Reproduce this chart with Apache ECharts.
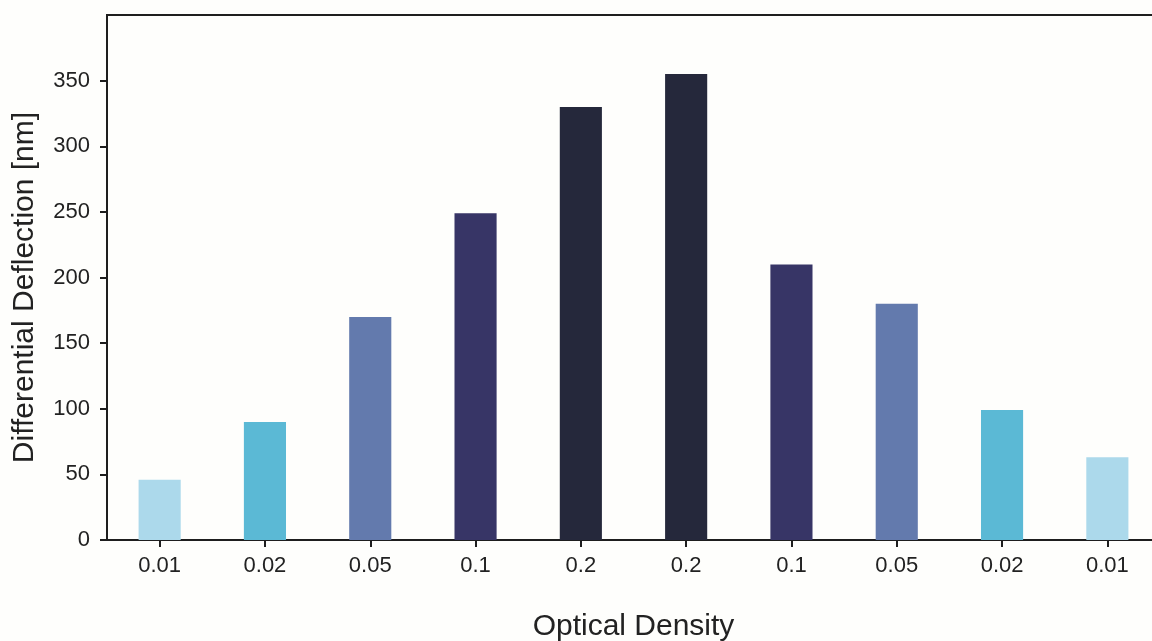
<!DOCTYPE html>
<html>
<head>
<meta charset="utf-8">
<script src="https://cdn.jsdelivr.net/npm/echarts@6/dist/echarts.min.js"></script>
<style>
  html, body { margin: 0; padding: 0; background: #fefefc; }
  #chart { width: 1152px; height: 641px; }
</style>
</head>
<body>
<div id="chart"></div>
<script>
// Optical density of each filter, ascending then descending
const categories = ['0.01', '0.02', '0.05', '0.1', '0.2', '0.2', '0.1', '0.05', '0.02', '0.01'];
// Differential deflection measured for each filter [nm]
const deflection = [46, 90, 170, 249, 330, 355, 210, 180, 99, 63];
// Colour per optical density level
const densityColors = {
  '0.01': '#acd9eb',
  '0.02': '#5bb9d5',
  '0.05': '#637aad',
  '0.1': '#373566',
  '0.2': '#25283b'
};

const chart = echarts.init(document.getElementById('chart'), null, { renderer: 'canvas' });
const textColor = '#222222';
const font = "'Liberation Sans', Arial, sans-serif";

chart.setOption({
  backgroundColor: '#fefefc',
  animation: false,
  grid: {
    left: 107,
    top: 15,
    width: 1053,
    height: 525,
    show: true,
    borderColor: '#1e1e1e',
    borderWidth: 2,
    containLabel: false,
    outerBoundsMode: 'none'
  },
  xAxis: {
    type: 'category',
    data: categories,
    name: 'Optical Density',
    nameLocation: 'middle',
    nameGap: 72,
    nameTextStyle: { fontSize: 30, color: textColor, fontFamily: font },
    axisLine: { lineStyle: { color: '#1e1e1e', width: 2 } },
    axisTick: { show: true, alignWithLabel: true, inside: false, length: 7, lineStyle: { color: '#1e1e1e', width: 2 } },
    axisLabel: { fontSize: 22, color: textColor, fontFamily: font, margin: 15 },
    splitLine: { show: false }
  },
  yAxis: {
    type: 'value',
    min: 0,
    max: 400,
    interval: 50,
    name: 'Differential Deflection [nm]',
    nameLocation: 'middle',
    nameGap: 67,
    nameTextStyle: { fontSize: 30, color: textColor, fontFamily: font, padding: [0, 20, 0, 0] },
    axisLine: { show: true, lineStyle: { color: '#1e1e1e', width: 2 } },
    axisTick: { show: true, inside: false, length: 7, lineStyle: { color: '#1e1e1e', width: 2 } },
    axisLabel: { fontSize: 22, color: textColor, fontFamily: font, margin: 17, showMaxLabel: false },
    splitLine: { show: false }
  },
  series: [{
    type: 'bar',
    data: deflection.map((v, i) => ({ value: v, itemStyle: { color: densityColors[categories[i]] } })),
    barWidth: '40%'
  }]
});
</script>
</body>
</html>
